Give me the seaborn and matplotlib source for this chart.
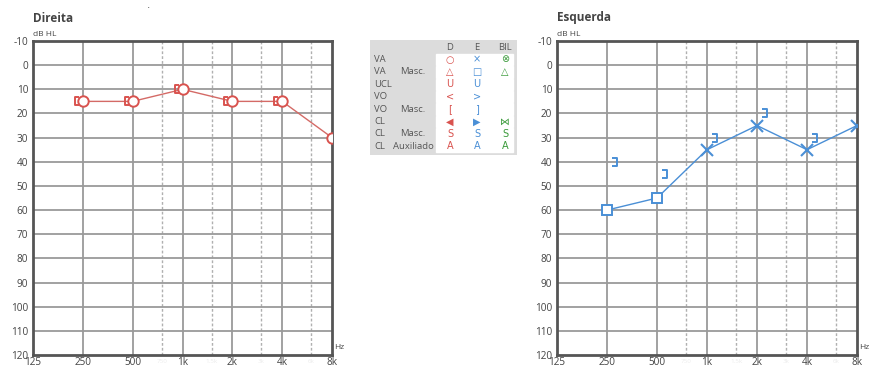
import matplotlib
matplotlib.use('Agg')
import matplotlib.pyplot as plt
import seaborn as sns
from matplotlib.path import Path
from matplotlib.patches import Rectangle

# Frequencies / dB scale
freq_ticks = [125, 250, 500, 1000, 2000, 4000, 8000]
freq_labels = ['125', '250', '500', '1k', '2k', '4k', '8k']
mid_freqs = [750, 1500, 3000, 6000]
mid_labels = ['750', '1.5k', '3k', '6k']
db_ticks = list(range(-10, 121, 10))

# Right ear (Direita)
right_freqs = [250, 500, 1000, 2000, 4000, 8000]
right_ac = [15, 15, 10, 15, 15, 30]
right_bc_masked_freqs = [250, 500, 1000, 2000, 4000]
right_bc_masked = [15, 15, 10, 15, 15]

# Left ear (Esquerda)
left_freqs = [250, 500, 1000, 2000, 4000, 8000]
left_ac = [60, 55, 35, 25, 35, 25]
left_ac_masked = [True, True, False, False, False, False]
left_bc_masked_freqs = [250, 500, 1000, 2000, 4000]
left_bc_masked = [40, 45, 30, 20, 30]

# Legend table
legend_rows = [('VA', ''), ('VA', 'Masc.'), ('UCL', ''), ('VO', ''), ('VO', 'Masc.'),
               ('CL', ''), ('CL', 'Masc.'), ('CL', 'Auxiliado')]
legend_d = ['○', '△', 'U', '<', '[', '◀', 'S', 'A']
legend_e = ['×', '□', 'U', '>', ']', '▶', 'S', 'A']
legend_bil = ['⊗', '△', '', '', '', '⋈', 'S', 'A']

RED = '#d9534f'
RED_LINE = '#d46a66'
BLUE = '#4a8fd6'
GREEN = '#3a9a3a'
TEXT = '#444444'

sns.set_style('white')
plt.rcParams['font.family'] = ['Open Sans', 'DejaVu Sans']
plt.rcParams['axes.unicode_minus'] = False

W, H = 869, 369
fig = plt.figure(figsize=(W / 100, H / 100), dpi=100)

# bracket markers offset from the data point (pixel units, normalised by mpl)
bracket_left = Path([(-4, 4.3), (-8, 4.3), (-8, -4.3), (-4, -4.3)])
bracket_right = Path([(5, 4.3), (9.5, 4.3), (9.5, -4.3), (5, -4.3)])


def setup_audiogram(ax, title, x0):
    ax.set_xscale('log', base=2)
    ax.set_xlim(125, 8000)
    ax.set_ylim(120, -10)
    ax.set_xticks(freq_ticks)
    ax.set_xticklabels(freq_labels)
    ax.set_yticks(db_ticks)
    ax.minorticks_off()
    ax.tick_params(length=0, labelsize=7.2, labelcolor=TEXT, pad=3.5)
    ax.tick_params(axis='x', pad=1.5)
    ax.grid(False)
    for f in freq_ticks[1:-1]:
        ax.axvline(f, color='#9a9a9a', lw=1.3, zorder=1)
    for f in mid_freqs:
        ax.axvline(f, color='#b0b0b0', lw=1.0, ls=(0, (2, 1.5)), zorder=1)
    for d in db_ticks[1:-1]:
        ax.axhline(d, color='#9a9a9a', lw=1.3, zorder=1)
    for s in ax.spines.values():
        s.set_color('#555555')
        s.set_linewidth(2.0)
        s.set_visible(True)
    for f, lab in zip(mid_freqs, mid_labels):
        ax.text(f, -0.012, lab, transform=ax.get_xaxis_transform(), fontsize=4.5, color='#ececec',
                ha='center', va='top')
    fig.text(x0 / W, 1 - 18 / H, title, fontsize=8.5, fontweight='bold', color=TEXT, va='center')
    fig.text(x0 / W, 1 - 35 / H, 'dB HL', fontsize=6, color=TEXT, va='center')
    ax.text(1.008, 0.025, 'Hz', transform=ax.transAxes, fontsize=6, color=TEXT, va='center')


ax_r = fig.add_axes([33 / W, 1 - 355 / H, 299 / W, 314 / H])
ax_l = fig.add_axes([557 / W, 1 - 355 / H, 300 / W, 314 / H])
setup_audiogram(ax_r, 'Direita', 33)
setup_audiogram(ax_l, 'Esquerda', 557)

# Right ear
sns.lineplot(x=right_freqs, y=right_ac, ax=ax_r, color=RED_LINE, lw=1.0, zorder=3)
ax_r.plot(right_freqs, right_ac, ls='none', marker='o', ms=7.5, mfc='white', mec=RED, mew=1.4, zorder=4)
ax_r.plot(right_bc_masked_freqs, right_bc_masked, ls='none', marker=bracket_left, ms=11.5,
          mfc='none', mec=RED, mew=1.4, zorder=5)

# Left ear
sns.lineplot(x=left_freqs, y=left_ac, ax=ax_l, color=BLUE, lw=1.0, zorder=3)
sq_f = [f for f, m in zip(left_freqs, left_ac_masked) if m]
sq_v = [v for v, m in zip(left_ac, left_ac_masked) if m]
x_f = [f for f, m in zip(left_freqs, left_ac_masked) if not m]
x_v = [v for v, m in zip(left_ac, left_ac_masked) if not m]
ax_l.plot(sq_f, sq_v, ls='none', marker='s', ms=7.5, mfc='white', mec=BLUE, mew=1.4, zorder=4)
ax_l.plot(x_f, x_v, ls='none', marker='x', ms=8.5, mec=BLUE, mew=1.5, zorder=4)
ax_l.plot(left_bc_masked_freqs, left_bc_masked, ls='none', marker=bracket_right, ms=13.7,
          mfc='none', mec=BLUE, mew=1.4, zorder=5)

for ax in (ax_r, ax_l):
    ax.set_xlabel('')
    ax.set_ylabel('')

# Legend table (pixel coordinates)
lx0, lx1, ly0, ly1 = 370, 517, 40, 155
axg = fig.add_axes([lx0 / W, 1 - ly1 / H, (lx1 - lx0) / W, (ly1 - ly0) / H])
axg.set_xlim(lx0, lx1)
axg.set_ylim(ly1, ly0)
axg.axis('off')
axg.add_patch(Rectangle((lx0, ly0), lx1 - lx0, ly1 - ly0, color='#dcdcdc', zorder=0))
row_y = [59.5 + 12.4 * i for i in range(len(legend_rows))]
for y in row_y:
    axg.add_patch(Rectangle((436, y - 5.8), 77, 11.6, color='white', zorder=1))
col_x = {'D': 450, 'E': 477, 'BIL': 505}
for name, x in col_x.items():
    axg.text(x, 47, name, ha='center', va='center', fontsize=6.8, color='#555555')
sym_font = ['DejaVu Sans']
for y, (a, b), d, e, bil in zip(row_y, legend_rows, legend_d, legend_e, legend_bil):
    axg.text(374, y, a, ha='left', va='center', fontsize=6.8, color='#555555')
    axg.text(413, y, b, ha='center', va='center', fontsize=6.8, color='#555555')
    axg.text(col_x['D'], y, d, ha='center', va='center', fontsize=7, color=RED, family=sym_font)
    axg.text(col_x['E'], y, e, ha='center', va='center', fontsize=7, color=BLUE, family=sym_font)
    axg.text(col_x['BIL'], y, bil, ha='center', va='center', fontsize=7, color=GREEN, family=sym_font)

fig.text(148 / W, 1 - 8 / H, '•', fontsize=3, color='black', ha='center', va='center')

fig.savefig('out.png', dpi=100)
